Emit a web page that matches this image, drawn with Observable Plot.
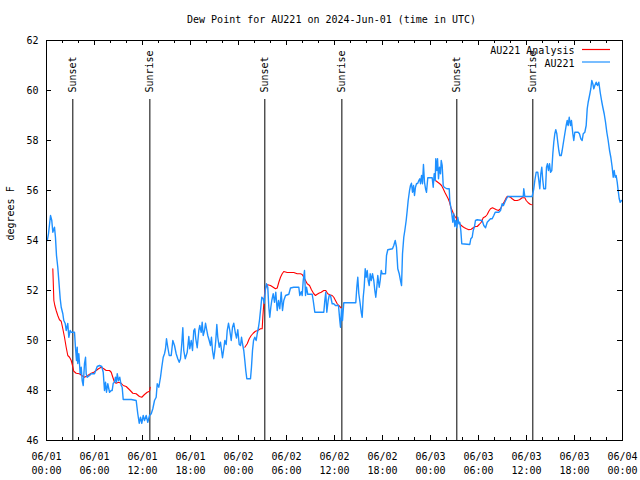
<!DOCTYPE html>
<html><head><meta charset="utf-8">
<script src="https://cdn.jsdelivr.net/npm/d3@7"></script>
<script src="https://cdn.jsdelivr.net/npm/@observablehq/plot@0.6"></script>
<style>body{margin:0;background:#fff} svg{display:block}</style>
</head><body><div id="chart"></div>
<script>
const chartTitle = "Dew Point for AU221 on 2024-Jun-01 (time in UTC)";
const yLabel = "degrees F";
const legendLabels = ["AU221 Analysis", "AU221"];
const seriesColors = ["#ff0000", "#1e90ff"];
const startUTC = Date.UTC(2024, 5, 1);
const yTicks = [46, 48, 50, 52, 54, 56, 58, 60, 62];
const xMajorHours = [0, 6, 12, 18, 24, 30, 36, 42, 48, 54, 60, 66, 72];
const xMinorHours = [2, 4, 8, 10, 14, 16, 20, 22, 26, 28, 32, 34, 38, 40, 44, 46, 50, 52, 56, 58, 62, 64, 68, 70];
const xTickLabels = ["06/01\n00:00","06/01\n06:00","06/01\n12:00","06/01\n18:00","06/02\n00:00","06/02\n06:00","06/02\n12:00","06/02\n18:00","06/03\n00:00","06/03\n06:00","06/03\n12:00","06/03\n18:00","06/04\n00:00"];
const sunHours = [3.29, 12.92, 27.29, 36.92, 51.29, 60.79];
const sunLabels = ["Sunset", "Sunrise", "Sunset", "Sunrise", "Sunset", "Sunrise"];

// AU221 observations: [hours since 06/01 00:00 UTC, dew point F]
const obs = [
[0.1,54.0],[0.25,54.27],[0.5,55.0],[0.66,54.8],[0.79,54.33],[1.0,54.53],[1.12,54.13],[1.25,53.4],[1.41,52.93],[1.54,52.4],
[1.71,51.68],[1.84,51.33],[2.04,51.07],[2.16,50.8],[2.34,50.68],[2.46,50.4],[2.66,50.68],[2.79,50.13],[2.96,50.4],[3.09,50.33],
[3.5,50.33],[3.62,49.73],[3.75,49.2],[3.84,49.73],[3.91,49.08],[4.04,49.47],[4.21,48.67],[4.34,48.93],[4.46,48.4],[4.59,48.2],
[4.75,49.08],[4.88,49.33],[4.96,48.67],[5.09,48.53],[5.38,48.6],[5.59,48.67],[6.0,48.67],[6.34,48.96],[6.62,49.0],[6.91,48.96],
[7.09,48.73],[7.25,48.0],[7.38,48.33],[7.5,47.93],[7.66,48.27],[7.88,47.93],[8.09,48.0],[8.21,48.0],[8.34,48.29],[8.5,48.33],
[8.62,48.53],[8.75,48.33],[8.84,48.67],[9.0,48.4],[9.16,48.53],[9.34,48.2],[9.46,48.13],[9.59,47.64],[10.59,47.64],[11.21,47.6],
[11.41,47.07],[11.59,46.69],[11.75,46.93],[11.91,46.69],[12.09,47.0],[12.25,46.8],[12.46,47.0],[12.66,46.73],[12.88,47.0],[13.09,47.07],
[13.29,47.27],[13.5,47.6],[13.71,47.73],[13.84,48.27],[14.04,48.13],[14.25,48.53],[14.41,48.93],[14.59,49.33],[14.75,49.47],[14.88,49.67],
[15.0,50.07],[15.16,49.73],[15.34,49.4],[15.59,49.4],[15.79,50.0],[16.0,49.8],[16.21,49.47],[16.41,49.27],[16.59,49.13],[16.75,49.27],
[16.91,49.87],[17.04,50.51],[17.16,49.6],[17.34,49.27],[17.59,49.53],[17.79,50.16],[17.91,49.67],[18.09,50.0],[18.25,49.6],[18.41,50.4],
[18.54,50.47],[18.66,50.07],[18.84,49.71],[19.04,50.4],[19.16,50.6],[19.34,50.33],[19.46,50.73],[19.59,50.2],[19.75,50.4],[19.88,50.69],
[20.0,50.47],[20.16,50.2],[20.34,50.0],[20.5,49.8],[20.62,50.13],[20.75,49.6],[20.91,49.27],[21.04,49.6],[21.16,50.0],[21.29,50.64],
[21.41,50.13],[21.59,49.73],[21.75,49.93],[21.88,49.6],[22.0,49.31],[22.16,49.67],[22.29,50.0],[22.46,49.84],[22.59,50.4],[22.75,50.69],
[22.91,50.4],[23.09,50.0],[23.25,50.53],[23.41,50.69],[23.59,50.33],[23.75,50.1],[23.91,50.43],[24.09,49.84],[24.25,49.8],[24.38,50.13],
[24.5,49.87],[24.66,49.6],[24.79,49.2],[24.91,48.8],[25.04,48.47],[25.5,48.47],[25.62,48.93],[25.75,49.6],[25.88,50.0],[26.04,50.13],
[26.21,50.0],[26.34,50.27],[26.5,50.53],[26.62,50.8],[26.79,51.33],[26.91,51.73],[27.09,51.67],[27.21,51.49],[27.34,52.0],[27.5,52.27],
[27.66,52.13],[27.79,51.33],[27.91,50.93],[28.04,51.33],[28.16,51.6],[28.34,51.87],[28.5,51.53],[28.66,51.93],[28.84,51.2],[29.0,51.6],
[29.16,51.27],[29.34,51.93],[29.5,51.2],[29.66,51.6],[29.88,51.8],[30.29,51.85],[30.5,52.1],[30.91,52.13],[31.54,52.13],[31.66,51.8],
[31.84,51.95],[31.96,51.8],[32.09,52.4],[32.25,52.8],[32.38,51.8],[32.5,52.13],[32.66,51.85],[33.21,51.85],[33.34,51.6],[33.54,51.13],
[34.66,51.13],[34.79,51.6],[34.91,51.93],[35.04,51.13],[35.21,51.6],[35.34,51.8],[35.5,51.8],[35.71,51.47],[35.91,51.47],[36.12,51.4],
[36.5,51.4],[36.66,50.8],[36.75,50.53],[36.88,51.27],[37.0,50.8],[37.16,51.51],[38.66,51.51],[38.79,52.13],[38.91,52.53],[39.04,51.87],
[39.21,51.47],[39.34,51.13],[39.46,50.93],[39.59,51.73],[39.71,52.13],[39.84,52.87],[39.96,52.53],[40.09,52.8],[40.21,52.4],[40.34,52.2],
[40.46,52.67],[40.59,52.4],[40.75,52.67],[40.91,52.4],[41.04,52.0],[41.16,51.73],[41.29,52.13],[41.41,52.6],[41.59,52.13],[41.71,52.4],
[41.84,52.8],[41.96,52.67],[42.38,52.67],[42.5,53.4],[42.66,53.63],[43.25,53.67],[43.41,53.8],[43.59,54.0],[43.75,53.73],[43.91,52.87],
[44.09,52.67],[44.25,52.4],[44.38,52.2],[44.5,53.47],[44.66,54.13],[44.79,54.4],[44.96,54.8],[45.09,55.2],[45.21,55.6],[45.38,56.0],
[45.5,56.2],[45.62,56.29],[45.75,55.93],[45.88,56.2],[46.0,55.8],[46.12,56.13],[46.25,56.27],[46.41,56.29],[46.54,56.4],[46.66,56.47],
[46.75,56.27],[46.88,56.6],[47.0,56.27],[47.12,57.04],[47.25,56.33],[47.38,56.07],[47.5,55.93],[47.66,56.51],[48.21,56.51],[48.34,56.13],
[48.46,56.67],[48.59,56.4],[48.66,57.27],[48.79,56.8],[48.88,57.27],[49.0,56.47],[49.12,56.93],[49.25,56.67],[49.34,57.2],[49.46,57.0],
[49.59,56.2],[49.71,56.13],[50.04,56.07],[50.34,56.07],[50.41,55.6],[50.54,55.33],[50.66,55.07],[50.79,54.73],[50.91,55.07],[51.04,54.56],
[51.16,54.8],[51.29,54.51],[51.41,54.93],[51.54,54.67],[51.66,54.73],[51.79,54.4],[51.91,53.87],[52.91,53.84],[53.04,54.07],[53.21,54.13],
[53.34,54.4],[53.5,54.56],[53.62,54.8],[53.84,54.83],[54.46,54.8],[54.66,54.6],[54.88,54.51],[55.09,54.73],[55.29,54.8],[55.5,54.87],
[55.71,54.87],[55.91,55.0],[56.09,55.13],[56.54,55.13],[56.75,55.2],[56.96,55.47],[57.12,55.4],[57.29,55.53],[57.5,55.67],[57.66,55.76],
[59.59,55.76],[59.66,56.07],[59.79,55.76],[60.71,55.76],[60.91,56.07],[61.04,56.4],[61.21,56.73],[61.41,56.73],[61.54,56.4],[61.66,56.07],
[61.79,56.67],[61.91,56.93],[62.04,56.4],[62.16,56.07],[62.38,56.07],[62.5,56.93],[62.62,57.07],[62.75,56.8],[62.88,57.07],[63.0,56.73],
[63.16,56.8],[63.29,57.47],[63.41,57.93],[63.54,58.27],[63.66,58.43],[63.79,58.27],[63.91,57.93],[64.04,57.6],[64.16,57.4],[64.34,57.4],
[64.46,57.6],[64.62,57.93],[64.79,58.27],[64.96,58.6],[65.09,58.8],[65.21,58.6],[65.34,58.93],[65.5,58.6],[65.62,58.8],[65.79,58.27],
[65.91,58.0],[66.04,58.33],[66.46,58.33],[66.62,58.27],[66.79,58.07],[66.96,58.0],[67.09,58.27],[67.29,58.33],[67.46,58.6],[67.59,59.27],
[67.71,59.53],[67.88,59.8],[68.04,60.07],[68.16,60.4],[68.29,60.27],[68.41,60.07],[68.54,60.2],[68.71,60.33],[68.88,60.2],[69.04,60.33],
[69.21,59.93],[69.38,59.6],[69.54,59.33],[69.71,59.07],[69.88,58.73],[70.04,58.33],[70.21,58.0],[70.38,57.6],[70.54,57.33],[70.71,56.93],
[70.84,56.53],[70.96,56.8],[71.09,56.53],[71.21,56.6],[71.34,56.33],[71.46,56.0],[71.59,55.67],[71.71,55.53],[71.88,55.6]
];

// AU221 Analysis, three segments
const analysis1 = [
[0.79,52.87],[0.92,51.6],[1.04,51.4],[1.21,51.2],[1.41,51.0],[1.62,50.83],[1.84,50.77],[2.04,50.47],[2.25,50.13],[2.46,49.73],
[2.66,49.4],[2.88,49.33],[3.09,49.2],[3.25,49.0],[3.41,48.77],[3.71,48.69],[4.12,48.67],[4.41,48.6],[4.75,48.53],[5.16,48.6],
[5.59,48.69],[5.91,48.73],[6.21,48.8],[6.5,48.87],[6.84,48.93],[7.16,48.87],[7.46,48.8],[7.88,48.8],[8.09,48.73],[8.29,48.53],
[8.5,48.33],[8.71,48.29],[9.0,48.33],[9.34,48.29],[9.59,48.2],[9.96,48.16],[10.38,48.03],[10.79,47.89],[11.21,47.87],[11.62,47.76],
[11.91,47.73],[12.25,47.84],[12.59,47.93],[12.88,47.97],[12.96,48.13]
];
const analysis2 = [
[24.79,49.73],[25.09,49.87],[25.34,50.07],[25.59,50.2],[25.84,50.29],[26.12,50.37],[26.41,50.4],[26.75,50.47],[26.96,50.47],[27.04,50.93],
[27.16,51.47],[27.29,52.0],[27.5,52.2],[27.66,52.23],[28.0,52.2],[28.34,52.13],[28.62,52.07],[28.84,52.1],[29.04,52.33],[29.25,52.53],
[29.46,52.67],[29.66,52.76],[30.09,52.72],[30.91,52.72],[31.34,52.67],[31.75,52.67],[31.96,52.64],[32.16,52.53],[32.38,52.4],[32.59,52.27],
[32.88,52.2],[33.12,52.03],[33.41,51.87],[33.62,51.8],[33.84,51.85],[34.04,51.89],[34.34,51.93],[34.66,52.0],[34.91,52.0],[35.16,51.87],
[35.41,51.83],[35.71,51.8],[35.91,51.73],[36.12,51.6],[36.34,51.47],[36.54,51.4],[36.75,51.33],[36.88,51.27]
];
const analysis3 = [
[48.62,56.4],[48.91,56.33],[49.16,56.27],[49.38,56.2],[49.59,56.07],[49.79,55.93],[50.0,55.8],[50.21,55.67],[50.38,55.53],[50.54,55.33],
[50.71,55.2],[50.91,55.04],[51.12,54.93],[51.34,54.84],[51.54,54.73],[51.75,54.63],[52.0,54.56],[52.25,54.51],[52.5,54.47],[52.79,54.43],
[53.09,54.45],[53.34,54.51],[53.62,54.56],[53.84,54.56],[54.09,54.64],[54.34,54.73],[54.59,54.91],[54.88,54.96],[55.09,55.04],[55.29,55.17],
[55.5,55.27],[55.75,55.31],[56.0,55.27],[56.25,55.23],[56.5,55.2],[56.75,55.27],[56.96,55.4],[57.25,55.57],[57.5,55.73],[57.66,55.77],
[58.0,55.73],[58.21,55.67],[58.5,55.6],[58.84,55.6],[59.12,55.63],[59.46,55.71],[59.79,55.71],[59.96,55.6],[60.21,55.51],[60.5,55.44],
[60.71,55.43]
];

const toDate = h => new Date(startUTC + h * 3600e3);
const obsRows = obs.map(([h, v]) => ({t: toDate(h), v}));
const anaRows = [analysis1, analysis2, analysis3].flatMap((seg, i) => seg.map(([h, v]) => ({t: toDate(h), v, seg: i})));
const sun = sunHours.map((h, i) => ({t: toDate(h), label: sunLabels[i]}));
const majors = xMajorHours.map((h, i) => ({t: toDate(h), label: xTickLabels[i]}));
const minors = xMinorHours.map(toDate);

const W = 640, H = 480, mL = 46, mR = 18, mT = 40, mB = 40;
const fw = W - mL - mR, fh = H - mT - mB;
const font = "DejaVu Sans Mono";

const plot = Plot.plot({
  width: W, height: H, marginLeft: mL, marginRight: mR, marginTop: mT, marginBottom: mB,
  style: {fontFamily: font, fontSize: "10px", background: "white", color: "black", overflow: "visible"},
  x: {type: "utc", domain: [toDate(0), toDate(72)], axis: null},
  y: {domain: [46, 62], axis: null},
  marks: [
    Plot.ruleX(sun, {x: "t", insetTop: 59, stroke: "black", strokeWidth: 1}),
    Plot.text(sun, {x: "t", text: "label", frameAnchor: "top", dy: 52, rotate: -90, textAnchor: "start", lineAnchor: "middle", fill: "black"}),
    Plot.line(anaRows, {x: "t", y: "v", z: "seg", stroke: seriesColors[0], strokeWidth: 1.1}),
    Plot.line(obsRows, {x: "t", y: "v", stroke: seriesColors[1], strokeWidth: 1.4}),
    Plot.frame({stroke: "black"}),
    Plot.tickY(yTicks, {y: d => d, insetRight: fw - 5, stroke: "black"}),
    Plot.tickY(yTicks, {y: d => d, insetLeft: fw - 5, stroke: "black"}),
    Plot.tickX(majors, {x: "t", insetTop: fh - 5, stroke: "black"}),
    Plot.tickX(majors, {x: "t", insetBottom: fh - 5, stroke: "black"}),
    Plot.tickX(minors, {x: d => d, insetTop: fh - 3, stroke: "black"}),
    Plot.tickX(minors, {x: d => d, insetBottom: fh - 3, stroke: "black"}),
    Plot.text(yTicks, {y: d => d, text: d => String(d), frameAnchor: "left", dx: -8, textAnchor: "end", lineAnchor: "middle", fill: "black"}),
    Plot.text(majors, {x: "t", text: "label", frameAnchor: "bottom", dy: 22, lineHeight: 1.4, lineAnchor: "middle", fill: "black"}),
    Plot.text([chartTitle], {frameAnchor: "top", dy: -21, dx: -3, lineAnchor: "middle", fill: "black"}),
    Plot.text([yLabel], {frameAnchor: "left", dx: -36, rotate: -90, lineAnchor: "middle", fill: "black"}),
    Plot.text([legendLabels[0]], {frameAnchor: "top-right", dx: -48, dy: 10.5, textAnchor: "end", lineAnchor: "middle", fill: "black"}),
    Plot.text([legendLabels[1]], {frameAnchor: "top-right", dx: -48, dy: 23, textAnchor: "end", lineAnchor: "middle", fill: "black"})
  ]
});

// legend swatches
const svg = d3.select(plot);
legendLabels.forEach((_, i) => {
  svg.append("line")
    .attr("x1", W - mR - 40).attr("x2", W - mR - 12)
    .attr("y1", mT + 9.5 + 12.5 * i).attr("y2", mT + 9.5 + 12.5 * i)
    .attr("stroke", seriesColors[i]).attr("stroke-width", 1.2);
});
document.getElementById("chart").appendChild(plot);
</script>
</body></html>
